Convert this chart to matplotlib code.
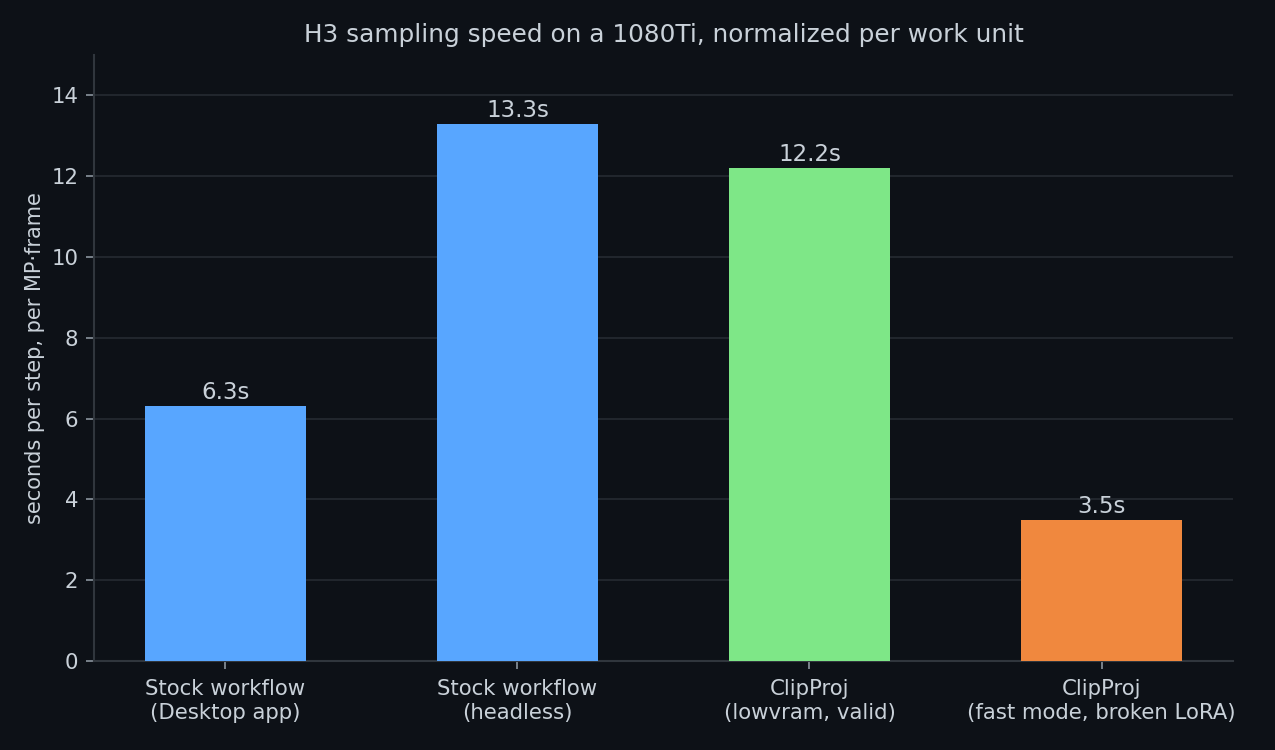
import matplotlib
matplotlib.use("Agg")
import matplotlib.pyplot as plt

# data
labels = ["Stock workflow\n(Desktop app)", "Stock workflow\n(headless)",
          "ClipProj\n(lowvram, valid)", "ClipProj\n(fast mode, broken LoRA)"]
seconds = [6.3, 13.3, 12.2, 3.5]
bar_colors = ["#58a6ff", "#58a6ff", "#7ee787", "#f0883e"]

bg = "#0d1117"
fg = "#c9d1d9"
grid_c = "#21262d"
spine_c = "#30363d"

fig = plt.figure(figsize=(8.5, 5), dpi=150, facecolor=bg)
ax = fig.add_axes([0.0737, 0.1187, 0.8933, 0.808])
ax.set_facecolor(bg)

x = list(range(len(labels)))
bars = ax.bar(x, seconds, width=0.55, color=bar_colors, zorder=3)
for b, v in zip(bars, seconds):
    ax.text(b.get_x() + b.get_width() / 2, v + 0.05, f"{v:.1f}s",
            ha="center", va="bottom", color=fg, fontsize=11)

ax.set_xlim(-0.45, 3.45)
ax.set_ylim(0, 15)
ax.set_yticks(range(0, 15, 2))
ax.set_xticks(x)
ax.set_xticklabels(labels, linespacing=1.25)
ax.yaxis.grid(True, color=grid_c, linewidth=1.0, zorder=0)
ax.set_axisbelow(True)

ax.set_title("H3 sampling speed on a 1080Ti, normalized per work unit",
             color=fg, fontsize=11.9, pad=6)
ax.set_ylabel("seconds per step, per MP·frame", color=fg, fontsize=10, labelpad=3)

for s in ["top", "right"]:
    ax.spines[s].set_visible(False)
for s in ["left", "bottom"]:
    ax.spines[s].set_color(spine_c)
    ax.spines[s].set_linewidth(1.0)
ax.tick_params(colors=fg, labelsize=10.2, length=4)
ax.tick_params(axis="both", color="#8b949e")
ax.tick_params(axis="x", pad=4.5)

fig.savefig("out.png", dpi=150, facecolor=bg)
